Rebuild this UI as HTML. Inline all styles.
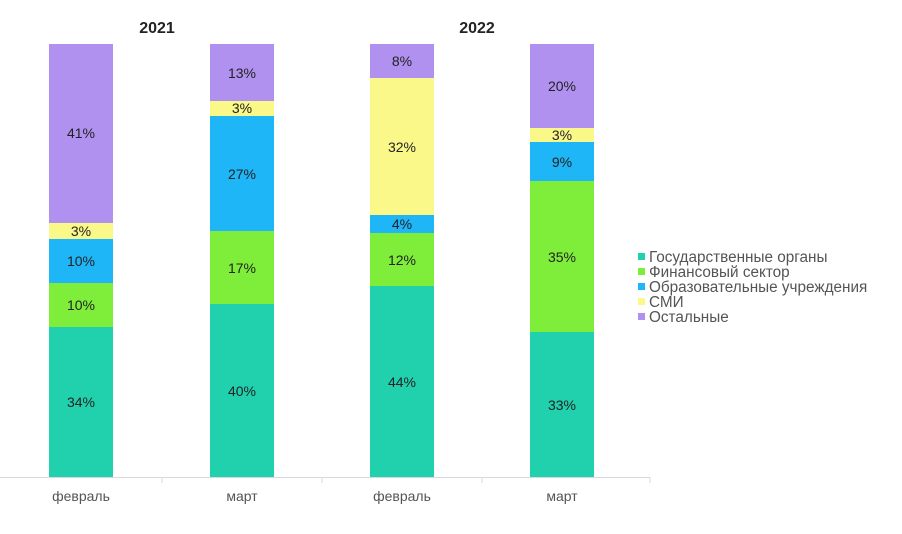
<!DOCTYPE html>
<html><head><meta charset="utf-8"><style>
body{margin:0;background:#fff;}
svg text{font-family:"Liberation Sans",sans-serif;}
</style></head><body>
<svg width="902" height="529" xmlns="http://www.w3.org/2000/svg">
<g font-size="14" fill="#222" text-anchor="middle">
<text x="157" y="33" font-size="16" font-weight="bold">2021</text>
<text x="477" y="33" font-size="16" font-weight="bold">2022</text>
</g>
<line x1="0" y1="477.5" x2="650" y2="477.5" stroke="#d9d9d9"/>
<g stroke="#d9d9d9"><line x1="162" y1="477" x2="162" y2="483"/><line x1="322" y1="477" x2="322" y2="483"/><line x1="482" y1="477" x2="482" y2="483"/><line x1="650" y1="477" x2="650" y2="483"/></g>
<rect x="49" y="44" width="64" height="179" fill="#b191f0"/>
<rect x="49" y="223" width="64" height="16" fill="#fbf88a"/>
<rect x="49" y="239" width="64" height="44" fill="#1fb6f7"/>
<rect x="49" y="283" width="64" height="44" fill="#7fee3a"/>
<rect x="49" y="327" width="64" height="150" fill="#21d1ad"/>
<rect x="210" y="44" width="64" height="57" fill="#b191f0"/>
<rect x="210" y="101" width="64" height="15" fill="#fbf88a"/>
<rect x="210" y="116" width="64" height="115" fill="#1fb6f7"/>
<rect x="210" y="231" width="64" height="73" fill="#7fee3a"/>
<rect x="210" y="304" width="64" height="173" fill="#21d1ad"/>
<rect x="370" y="44" width="64" height="34" fill="#b191f0"/>
<rect x="370" y="78" width="64" height="137" fill="#fbf88a"/>
<rect x="370" y="215" width="64" height="18" fill="#1fb6f7"/>
<rect x="370" y="233" width="64" height="53" fill="#7fee3a"/>
<rect x="370" y="286" width="64" height="191" fill="#21d1ad"/>
<rect x="530" y="44" width="64" height="84" fill="#b191f0"/>
<rect x="530" y="128" width="64" height="14" fill="#fbf88a"/>
<rect x="530" y="142" width="64" height="39" fill="#1fb6f7"/>
<rect x="530" y="181" width="64" height="151" fill="#7fee3a"/>
<rect x="530" y="332" width="64" height="145" fill="#21d1ad"/>
<g font-size="14" fill="#222" text-anchor="middle">
<text x="81" y="138">41%</text><text x="81" y="236">3%</text><text x="81" y="266">10%</text><text x="81" y="310">10%</text><text x="81" y="407">34%</text>
<text x="242" y="78">13%</text><text x="242" y="113">3%</text><text x="242" y="179">27%</text><text x="242" y="273">17%</text><text x="242" y="396">40%</text>
<text x="402" y="66">8%</text><text x="402" y="152">32%</text><text x="402" y="229">4%</text><text x="402" y="265">12%</text><text x="402" y="387">44%</text>
<text x="562" y="91">20%</text><text x="562" y="140">3%</text><text x="562" y="167">9%</text><text x="562" y="262">35%</text><text x="562" y="410">33%</text>
<g fill="#555"><text x="81" y="501">февраль</text><text x="242" y="501">март</text><text x="402" y="501">февраль</text><text x="562" y="501">март</text></g>
</g>
<g font-size="15.3" fill="#555">
<rect x="638" y="253" width="7" height="7" fill="#21d1ad"/><text x="649" y="262">Государственные органы</text>
<rect x="638" y="268" width="7" height="7" fill="#7fee3a"/><text x="649" y="277">Финансовый сектор</text>
<rect x="638" y="283" width="7" height="7" fill="#1fb6f7"/><text x="649" y="292">Образовательные учреждения</text>
<rect x="638" y="298" width="7" height="7" fill="#fbf88a"/><text x="649" y="307">СМИ</text>
<rect x="638" y="313" width="7" height="7" fill="#b191f0"/><text x="649" y="322">Остальные</text>
</g>
</svg>
</body></html>
